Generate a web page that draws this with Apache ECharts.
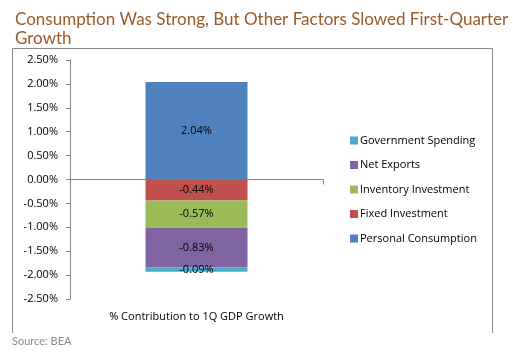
<!DOCTYPE html>
<html><head><meta charset="utf-8">
<script src="https://cdn.jsdelivr.net/npm/echarts@6/dist/echarts.min.js"></script>
<style>html,body{margin:0;padding:0;background:#fff}#c{width:513px;height:352px}</style>
</head><body><div id="c"></div>
<script>
const categories = ['% Contribution to 1Q GDP Growth'];
const seriesNames = ['Personal Consumption','Fixed Investment','Inventory Investment','Net Exports','Government Spending'];
const personalConsumption = [2.04];
const fixedInvestment = [-0.44];
const inventoryInvestment = [-0.57];
const netExports = [-0.83];
const governmentSpending = [-0.09];
const yTicks = [-2.5,-2.0,-1.5,-1.0,-0.5,0,0.5,1.0,1.5,2.0,2.5];
const colors = ['#4F81BD','#C0504D','#9BBB59','#8064A2','#4BACC6'];
const values = [personalConsumption,fixedInvestment,inventoryInvestment,netExports,governmentSpending];

const chart = echarts.init(document.getElementById('c'));
const labelFont = {fontFamily:'Open Sans', fontSize:11, color:'#000'};
chart.setOption({
  animation:false,
  title:{text:'Consumption Was Strong, But Other Factors Slowed First-Quarter\nGrowth', left:10, top:5,
    textStyle:{fontFamily:'Lato', fontSize:17, fontWeight:'normal', color:'#9B5A2C', lineHeight:19}},
  graphic:[
    {type:'polyline', shape:{points:[[12.5,333],[12.5,48.5],[492.5,48.5],[492.5,333]]}, style:{stroke:'#8a8a8a', lineWidth:1, fill:null}},
    {type:'text', left:12, top:336, style:{text:'Source: BEA', fontFamily:'Lato', fontSize:11, fill:'#8c8c8c'}}
  ],
  legend:{orient:'vertical', left:345, top:130, itemWidth:8, itemHeight:8, itemGap:13.5,
    icon:'rect', data:seriesNames.slice().reverse(), textStyle:Object.assign({padding:[0,0,0,-3]},labelFont)},
  grid:{left:70, right:190, top:60, bottom:53, containLabel:false},
  xAxis:[
    {type:'category', data:categories, position:'bottom', axisLine:{show:false, onZero:false}, axisTick:{show:false},
     axisLabel:Object.assign({margin:12}, labelFont)},
    {type:'category', data:categories, position:'bottom', axisLine:{show:true, onZero:true, lineStyle:{color:'#868686'}},
     axisTick:{show:true, length:5, lineStyle:{color:'#868686'}}, axisLabel:{show:false}}
  ],
  yAxis:{type:'value', min:-2.5, max:2.5, interval:0.5,
    axisLine:{show:true, lineStyle:{color:'#868686'}}, axisTick:{show:true, inside:false, length:4, lineStyle:{color:'#868686'}},
    splitLine:{show:false},
    axisLabel:Object.assign({margin:12, formatter:v=>v.toFixed(2)+'%'}, labelFont)},
  series: seriesNames.map((n,i)=>({
    name:n, type:'bar', stack:'total', data:values[i], barWidth:102, itemStyle:{color:colors[i]},
    label:{show:true, position:'inside', formatter:p=>p.value.toFixed(2)+'%', fontFamily:'Open Sans', fontSize:11, color:'#000'}
  }))
});
</script></body></html>
